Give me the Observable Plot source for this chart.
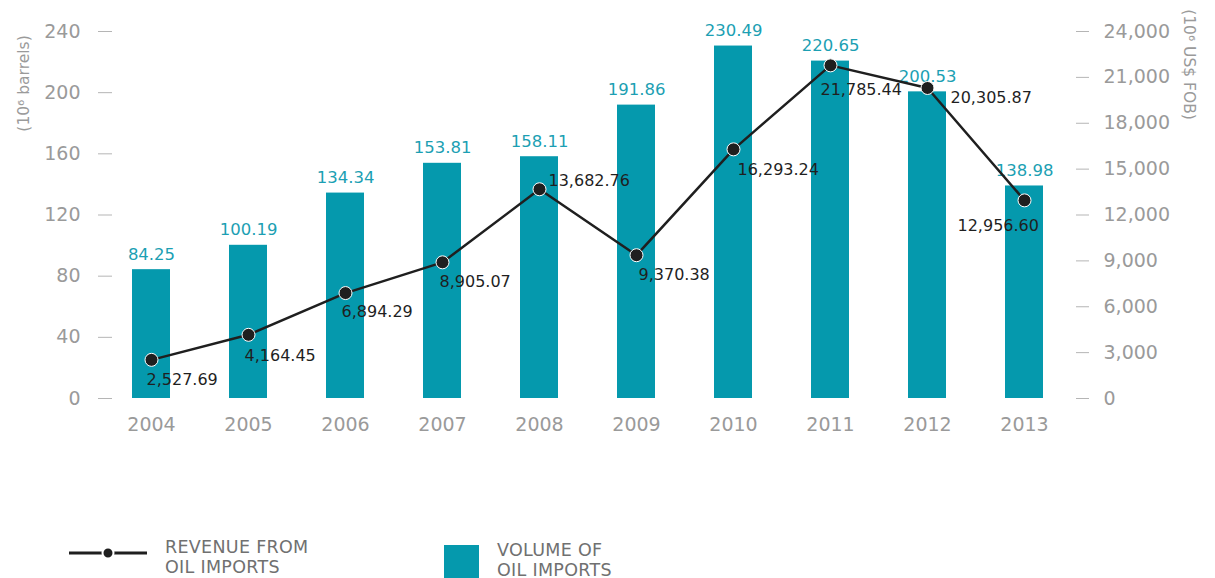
<!DOCTYPE html>
<html>
<head>
<meta charset="utf-8">
<script src="https://cdn.jsdelivr.net/npm/d3@7"></script>
<script src="https://cdn.jsdelivr.net/npm/@observablehq/plot@0.6"></script>
<style>
  html, body { margin: 0; padding: 0; background: #fff; }
  body { width: 1215px; height: 578px; position: relative; overflow: hidden; font-family: "DejaVu Sans", sans-serif; }
  #chart { position: absolute; left: 0; top: 0; }
  .leg { position: absolute; color: #707070; font-size: 17.5px; line-height: 19.5px; letter-spacing: 0.3px; }
</style>
</head>
<body>
<div id="chart"></div>
<div id="legend"></div>
<script>
// ---- data ----
const years = ["2004", "2005", "2006", "2007", "2008", "2009", "2010", "2011", "2012", "2013"];
const volume = [84.25, 100.19, 134.34, 153.81, 158.11, 191.86, 230.49, 220.65, 200.53, 138.98];
const revenue = [2527.69, 4164.45, 6894.29, 8905.07, 13682.76, 9370.38, 16293.24, 21785.44, 20305.87, 12956.60];
const leftTicks = [0, 40, 80, 120, 160, 200, 240];
const rightTicks = [0, 3000, 6000, 9000, 12000, 15000, 18000, 21000, 24000];
const leftTitle = "(10\u2076 barrels)";
const rightTitle = "(10\u2076 US$ FOB)";
const legendLine = ["REVENUE FROM", "OIL IMPORTS"];
const legendBar = ["VOLUME OF", "OIL IMPORTS"];

// ---- styling (label offsets for revenue values) ----
const revLabelOffset = [
  [-5, 20], [-4, 21], [-4, 19], [-3, 20], [9, -8],
  [2, 20], [4, 21], [-10, 25], [23, 10], [-67, 26]
];
const ratio = 100; // right axis value / left axis value

const teal = "#0599ad";
const tealText = "#1c9fb3";
const gray = "#9a9a9a";
const dark = "#1f1f1f";

const rows = years.map((y, i) => ({
  year: y, volume: volume[i], revenue: revenue[i], rev: revenue[i] / ratio,
  dx: revLabelOffset[i][0], dy: revLabelOffset[i][1]
}));
const fmt2 = d3.format(",.2f");
const fmtR = d3.format(",");

const H = 460;
const chart = Plot.plot({
  width: 1215,
  height: H,
  marginTop: 31,
  marginBottom: H - 398,
  marginLeft: 112,
  marginRight: 152,
  style: { fontFamily: "DejaVu Sans, sans-serif", background: "transparent", overflow: "visible" },
  x: { type: "band", domain: years, paddingInner: 0.608, paddingOuter: 0.206 },
  y: { domain: [0, 240] },
  marks: [
    Plot.barY(rows, { x: "year", y: "volume", fill: teal }),
    Plot.text(rows, {
      x: "year", y: "volume", text: d => fmt2(d.volume), fill: tealText,
      lineAnchor: "bottom", dy: -10, fontSize: 16.5
    }),
    Plot.line(rows, { x: "year", y: "rev", stroke: dark, strokeWidth: 2.5 }),
    Plot.dot(rows, { x: "year", y: "rev", r: 6.5, fill: dark, stroke: "white", strokeWidth: 1 }),
    ...rows.map(d => Plot.text([d], {
      x: "year", y: "rev", text: r => fmt2(r.revenue), fill: dark,
      textAnchor: "start", dx: d.dx, dy: d.dy, fontSize: 16
    })),
    Plot.axisY(leftTicks, {
      anchor: "left", tickSize: 14, tickPadding: 18, stroke: "#b5b5b5", color: gray,
      fontSize: 19, tickFormat: d => String(d), label: null
    }),
    Plot.axisY(rightTicks.map(v => v / ratio), {
      anchor: "right", tickSize: 13, tickPadding: 15, dx: 12, stroke: "#b5b5b5", color: gray,
      fontSize: 19, tickFormat: d => fmtR(Math.round(d * ratio)), label: null
    }),
    Plot.axisX({
      tickSize: 0, tickPadding: 19, color: gray, fontSize: 19, label: null
    }),
    Plot.text([leftTitle], {
      frameAnchor: "top-left", text: d => d, rotate: -90, dx: -95, dy: 52,
      fill: gray, fontSize: 15.5, textAnchor: "middle"
    }),
    Plot.text([rightTitle], {
      frameAnchor: "top-right", text: d => d, rotate: 90, dx: 132, dy: 33,
      fill: gray, fontSize: 15.5, textAnchor: "middle"
    })
  ]
});
document.getElementById("chart").appendChild(chart);

// ---- legend ----
const leg = document.getElementById("legend");
leg.innerHTML = `
  <svg style="position:absolute;left:66px;top:545px" width="84" height="16">
    <line x1="3" y1="8" x2="81" y2="8" stroke="${dark}" stroke-width="3"/>
    <circle cx="42" cy="8" r="5.5" fill="${dark}" stroke="white" stroke-width="2"/>
  </svg>
  <div class="leg" style="left:165px;top:538px">${legendLine.join("<br>")}</div>
  <div style="position:absolute;left:444px;top:545px;width:35px;height:40px;background:${teal}"></div>
  <div class="leg" style="left:497px;top:541px">${legendBar.join("<br>")}</div>
`;
</script>
</body>
</html>
